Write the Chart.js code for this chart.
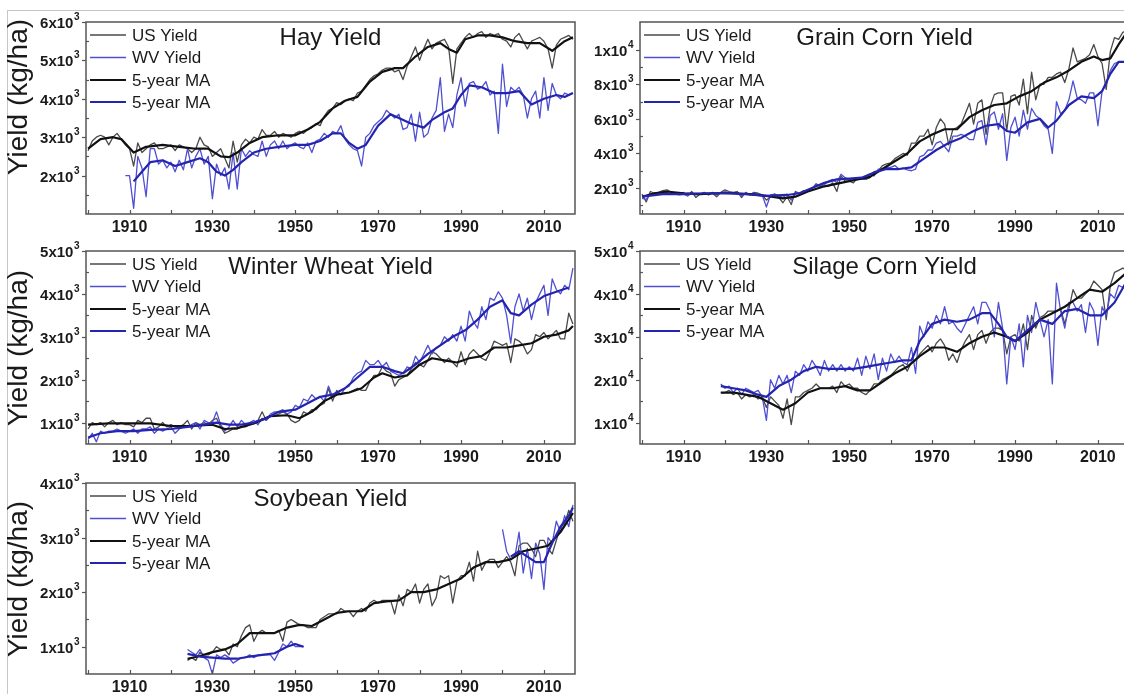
<!DOCTYPE html>
<html>
<head>
<meta charset="utf-8">
<script src="https://cdn.jsdelivr.net/npm/chart.js@4.4.0/dist/chart.umd.min.js"></script>
<style>
  html, body { margin: 0; padding: 0; background: #fff; width: 1124px; height: 694px; overflow: hidden; }
  #frame { position: absolute; left: 7px; top: 10px; width: 1300px; height: 900px;
           border-top: 1.5px solid #c6c6c6; border-left: 1.5px solid #c6c6c6; }
  canvas { position: absolute; }
</style>
</head>
<body>
<div id="frame"></div>
<canvas id="hay" width="578" height="240" style="left:0px;top:0px"></canvas>
<canvas id="corn" width="558" height="240" style="left:576px;top:0px"></canvas>
<canvas id="wheat" width="578" height="240" style="left:0px;top:230px"></canvas>
<canvas id="silage" width="558" height="240" style="left:576px;top:230px"></canvas>
<canvas id="soy" width="578" height="240" style="left:0px;top:460px"></canvas>
<script>
// ---- year axis ----
const yearLabels = [1910, 1930, 1950, 1970, 1990, 2010]
const yearMinor = [1900, 1920, 1940, 1960, 1980, 2000]

// ---- Hay (kg/ha) ----
const hayUsStart = 1900
const hayUs = [
  2650, 2900, 3000, 3050, 3000, 2800, 3000, 3100, 2950, 2800,
  2700, 2250, 2850, 2600, 2700, 2800, 2850, 2700, 2700, 2750,
  2800, 2650, 2800, 2750, 2700, 2600, 2700, 3000, 2800, 2750,
  2500, 2600, 2700, 2450, 2200, 2900, 2350, 2800, 2950, 2850,
  3000, 2950, 3200, 3050, 3050, 3150, 3000, 3100, 3050, 3000,
  3100, 3150, 3100, 3200, 3250, 3350, 3300, 3550, 3700, 3750,
  3900, 3850, 3950, 4000, 3950, 4150, 4200, 4350, 4500, 4600,
  4650, 4750, 4800, 4800, 4700, 4750, 4500, 4850, 5100, 5350,
  5000, 5300, 5550, 5300, 5450, 5500, 5550, 5350, 4400, 5300,
  5450, 5600, 5700, 5600, 5700, 5750, 5600, 5700, 5650, 5700,
  5550, 5500, 5350, 5600, 5700, 5500, 5300, 5500, 5550, 5600,
  5500, 5300, 4800, 5400, 5550, 5600, 5650, 5550
]
const hayWvStart = 1909
const hayWv = [
  2000,
  2000, 1150, 2500, 2200, 1450, 2700, 2700, 2300, 2400, 2200,
  2350, 2100, 2400, 2150, 2700, 2200, 2500, 2700, 2300, 2500,
  1400, 2300, 2000, 2200, 1650, 2600, 1650, 2700, 2500, 2650,
  2550, 2500, 2900, 2500, 2800, 2900, 2700, 2900, 2700, 2800,
  2850, 2750, 2700, 2850, 2600, 2900, 2950, 3100, 3000, 3150,
  3100, 3300, 2950, 2800, 2700, 2650, 2250, 3000, 3100, 3300,
  3400, 3500, 3700, 3600, 3500, 3600, 3200, 3250, 3600, 2900,
  3650, 3000, 3100, 3500, 3700, 4550, 3150, 3600, 3250, 4100,
  4550, 3800, 4400, 4450, 4250, 4300, 4450, 4100, 4200, 3100,
  4900, 3800, 4300, 4200, 4300, 4100, 3500, 4000, 4200, 3500,
  4550, 3700, 4400, 4100, 4000, 4150, 4100, 4150
]
const hayUsMaYears = [1900, 1903, 1906, 1908, 1911, 1914, 1918, 1922, 1926, 1929, 1932, 1934, 1936, 1939, 1942, 1946, 1950, 1953, 1956, 1959, 1962, 1965, 1968, 1971, 1974, 1976, 1979, 1982, 1985, 1987, 1989, 1991, 1994, 1997, 2000, 2003, 2006, 2009, 2012, 2015, 2017]
const hayUsMa = [2700, 2950, 3000, 2950, 2600, 2750, 2800, 2750, 2700, 2700, 2500, 2480, 2600, 2850, 3000, 3050, 3050, 3200, 3400, 3750, 3950, 4050, 4450, 4700, 4800, 4800, 5100, 5350, 5450, 5300, 5200, 5550, 5650, 5650, 5600, 5500, 5450, 5450, 5250, 5500, 5600]
const hayWvMaYears = [1911, 1913, 1915, 1918, 1921, 1924, 1927, 1929, 1931, 1933, 1935, 1937, 1940, 1943, 1946, 1950, 1953, 1956, 1959, 1961, 1963, 1965, 1967, 1970, 1973, 1975, 1978, 1981, 1983, 1986, 1988, 1990, 1992, 1995, 1998, 2001, 2004, 2007, 2010, 2013, 2015, 2017]
const hayWvMa = [1850, 2100, 2350, 2400, 2250, 2350, 2450, 2350, 2100, 2000, 2150, 2350, 2600, 2700, 2750, 2800, 2800, 2900, 3100, 3100, 2850, 2700, 2800, 3300, 3600, 3500, 3350, 3250, 3450, 3650, 3750, 4100, 4350, 4300, 4150, 4150, 4200, 3850, 4000, 4100, 4050, 4150]
const hayTicks = [2000, 3000, 4000, 5000, 6000]

// ---- Grain corn (kg/ha) ----
const cornUsStart = 1900
const cornUs = [
  1650, 1200, 1800, 1700, 1750, 1850, 1900, 1750, 1700, 1650,
  1750, 1550, 1800, 1450, 1650, 1750, 1600, 1700, 1500, 1750,
  1900, 1800, 1750, 1800, 1450, 1750, 1600, 1750, 1700, 1600,
  1300, 1500, 1650, 1450, 1150, 1500, 1050, 1800, 1700, 1850,
  1850, 1950, 2250, 2100, 2100, 2100, 2300, 1800, 2700, 2400,
  2400, 2300, 2600, 2500, 2500, 2600, 2950, 3000, 3300, 3400,
  3450, 3700, 3850, 4000, 3900, 4600, 4600, 5000, 5000, 5400,
  4500, 5500, 6000, 5700, 4500, 5400, 5500, 5700, 6300, 6900,
  5700, 6900, 7100, 5100, 6700, 7400, 7500, 7500, 5300, 7300,
  7400, 6800, 8300, 6300, 8700, 7100, 8000, 8000, 8400, 8400,
  8600, 8700, 8100, 8900, 10100, 9300, 9400, 9500, 9700, 10300,
  9600, 9200, 7700, 9900, 10700, 10600, 11000, 11100
]
const cornWvStart = 1900
const cornWv = [
  1400, 1350, 1650, 1600, 1700, 1700, 1750, 1650, 1650, 1600,
  1650, 1550, 1700, 1600, 1650, 1700, 1650, 1750, 1600, 1700,
  1800, 1750, 1700, 1750, 1550, 1700, 1650, 1700, 1650, 1600,
  900, 1600, 1650, 1550, 1450, 1650, 1300, 1750, 1700, 1800,
  1900, 1950, 2200, 2100, 2200, 2400, 2500, 2300, 2800, 2600,
  2500, 2450, 2600, 2500, 2500, 2800, 2700, 3100, 3100, 3200,
  3200, 3300, 3100, 3150, 3050, 3000, 3100, 3800, 3900, 4200,
  4200, 4600, 4700, 4400, 4100, 5000, 5000, 5100, 5000, 4800,
  4800, 5800, 5900, 4500, 6200, 6400, 5400, 6300, 3600, 5500,
  6100, 5000, 6500, 5400, 6600, 6200, 6000, 5600, 5400, 4000,
  7000, 6300, 6500, 7100, 8200, 7200, 7100, 6900, 7500, 7500,
  5600, 7600, 8000, 8800, 9200, 9300, 9300, 9200
]
const cornUsMaYears = [1900, 1903, 1906, 1910, 1914, 1918, 1922, 1926, 1930, 1934, 1937, 1940, 1944, 1948, 1952, 1955, 1958, 1961, 1964, 1967, 1970, 1973, 1976, 1979, 1982, 1985, 1988, 1991, 1994, 1997, 2000, 2003, 2006, 2009, 2011, 2013, 2015, 2017]
const cornUsMa = [1500, 1700, 1800, 1700, 1650, 1700, 1700, 1650, 1550, 1400, 1500, 1800, 2100, 2300, 2500, 2650, 3100, 3550, 4000, 4700, 5100, 5400, 5400, 6100, 6500, 6800, 6900, 7300, 7600, 8100, 8400, 8800, 9300, 9600, 9400, 9500, 10300, 11000]
const cornWvMaYears = [1900, 1905, 1910, 1915, 1920, 1925, 1930, 1935, 1938, 1941, 1944, 1947, 1950, 1953, 1956, 1959, 1962, 1965, 1968, 1971, 1974, 1977, 1980, 1983, 1986, 1988, 1990, 1993, 1996, 1998, 2000, 2003, 2006, 2009, 2011, 2013, 2015, 2017]
const cornWvMa = [1500, 1650, 1650, 1700, 1700, 1650, 1550, 1600, 1700, 2000, 2300, 2500, 2550, 2600, 2900, 3100, 3100, 3200, 3700, 4200, 4600, 4900, 5300, 5600, 5700, 5300, 5200, 5800, 6000, 5500, 5900, 6800, 7300, 7200, 7600, 8600, 9300, 9300]
const cornTicks = [2000, 4000, 6000, 8000, 10000]

// ---- Winter wheat (kg/ha) ----
const wheatUsStart = 1900
const wheatUs = [
  850, 1000, 950, 1000, 900, 1000, 1050, 950, 1000, 950,
  950, 900, 1050, 1000, 1100, 1100, 850, 900, 1000, 900,
  950, 900, 900, 950, 1050, 850, 1000, 950, 1000, 950,
  1050, 1100, 900, 750, 800, 850, 850, 900, 900, 950,
  1000, 1050, 1250, 1050, 1150, 1150, 1200, 1250, 1200, 1050,
  1000, 1050, 1250, 1200, 1300, 1300, 1400, 1450, 1800, 1500,
  1750, 1650, 1700, 1700, 1750, 1800, 1750, 1750, 1950, 2100,
  2100, 2300, 2200, 2150, 1850, 2000, 2050, 2100, 2250, 2400,
  2350, 2300, 2450, 2650, 2600, 2500, 2400, 2500, 2400, 2300,
  2650, 2350, 2600, 2700, 2600, 2500, 2450, 2650, 2900, 2850,
  2800, 2850, 2400, 2950, 2900, 2800, 2600, 2700, 3050, 3000,
  3100, 2950, 3050, 3150, 2950, 2950, 3550, 3300
]
const wheatWvStart = 1900
const wheatWv = [
  600, 750, 550, 800, 750, 800, 800, 850, 800, 750,
  800, 850, 750, 850, 850, 900, 750, 850, 800, 850,
  900, 750, 850, 900, 900, 950, 1000, 850, 1050, 1000,
  1000, 1250, 950, 800, 900, 1050, 900, 1050, 950, 1000,
  1050, 950, 1100, 1050, 1200, 1250, 1250, 1300, 1200, 1250,
  1400, 1350, 1550, 1500, 1650, 1550, 1600, 1500, 1850, 1600,
  1700, 1650, 1800, 1850, 2050, 2150, 2200, 2450, 2350, 2350,
  2450, 2300, 2400, 2200, 2150, 2100, 2150, 2300, 2250, 2550,
  2400, 2600, 2800, 2600, 2750, 2800, 3000, 2900, 3050, 2900,
  3250, 2900, 3600, 3350, 3200, 3700, 3400, 3900, 3850, 4050,
  3900, 3500, 2850, 3700, 4000, 3600, 3900, 3400, 3800, 4000,
  4200, 3500, 4350, 4100, 4000, 4200, 4100, 4600
]
const wheatUsMaYears = [1900, 1905, 1910, 1915, 1920, 1925, 1930, 1933, 1936, 1940, 1944, 1948, 1951, 1954, 1957, 1960, 1963, 1966, 1969, 1971, 1974, 1977, 1980, 1983, 1986, 1989, 1992, 1995, 1998, 2001, 2004, 2007, 2010, 2013, 2016, 2017]
const wheatUsMa = [950, 980, 980, 980, 920, 920, 950, 850, 870, 980, 1150, 1170, 1100, 1250, 1500, 1650, 1700, 1800, 2050, 2150, 2050, 2100, 2350, 2500, 2450, 2400, 2500, 2550, 2750, 2750, 2800, 2850, 3000, 3050, 3150, 3250]
const wheatWvMaYears = [1900, 1903, 1907, 1911, 1915, 1920, 1924, 1928, 1931, 1934, 1937, 1940, 1943, 1946, 1950, 1953, 1956, 1959, 1962, 1965, 1968, 1971, 1974, 1976, 1979, 1982, 1985, 1988, 1991, 1994, 1997, 2000, 2002, 2004, 2007, 2010, 2013, 2016]
const wheatWvMa = [650, 750, 800, 800, 830, 850, 900, 950, 1000, 950, 950, 1000, 1100, 1250, 1300, 1450, 1600, 1650, 1800, 2050, 2300, 2300, 2200, 2150, 2350, 2600, 2800, 3000, 3150, 3400, 3700, 3850, 3550, 3500, 3750, 3950, 4050, 4150]
const wheatTicks = [1000, 2000, 3000, 4000, 5000]

// ---- Silage corn (kg/ha) ----
const silageUsStart = 1919
const silageUs = [
  17000,
  17000, 17500, 16500, 17000, 15500, 16500, 16000, 16500, 15500, 16000,
  13500, 16000, 15000, 14000, 11000, 15500, 9500, 16000, 16000, 17000,
  17500, 18000, 19000, 18000, 18000, 18000, 18500, 17000, 19500, 18500,
  19000, 18000, 18000, 17000, 16500, 17500, 19000, 19000, 20000, 20500,
  21000, 22000, 23000, 23500, 22000, 24000, 24500, 26000, 27000, 28000,
  26500, 28500, 29500, 28000, 24500, 26000, 24000, 27000, 29000, 30500,
  27000, 30500, 31500, 28500, 31000, 32000, 32000, 31500, 26000, 30000,
  30500, 29000, 33000, 27000, 35000, 32000, 34500, 35000, 36000, 36000,
  36000, 36500, 33000, 36500, 41000, 39000, 39000, 40000, 41000, 43000,
  42000, 41000, 34000, 42000, 45000, 45500, 46000, 45500
]
const silageWvStart = 1919
const silageWv = [
  19000,
  18000, 18500, 17000, 18000, 16500, 18000, 17500, 17000, 17500, 16000,
  10500, 20000, 18000, 21000, 19000, 21000, 17000, 22000, 21000, 23500,
  22000, 24500, 23000, 21000, 24500, 22000, 23500, 22000, 23500, 22000,
  23000, 22000, 25000, 21000, 25500, 22500, 26000, 20000, 25000, 22000,
  26000, 24000, 25500, 24000, 23500, 27500, 21500, 32500, 30000, 33500,
  32000, 35000, 33000, 37000, 33000, 33500, 32000, 31000, 33000, 35000,
  37000, 33000, 38000, 38000, 36000, 30000, 38000, 32000, 19000, 30000,
  27000, 33000, 23000, 35000, 31000, 38000, 34000, 30000, 34000, 19000,
  42500, 36000, 32000, 38000, 38000, 36000, 37500, 31000, 38000, 36000,
  28000, 37000, 35000, 40000, 39000, 42000, 41500, 43000
]
const silageUsMaYears = [1919, 1922, 1925, 1928, 1931, 1934, 1937, 1940, 1943, 1946, 1949, 1952, 1955, 1958, 1961, 1964, 1967, 1970, 1973, 1976, 1979, 1982, 1985, 1988, 1990, 1993, 1996, 1999, 2002, 2005, 2008, 2011, 2014, 2017]
const silageUsMa = [17000, 17000, 16500, 16000, 14500, 13000, 14500, 17000, 18000, 18000, 18500, 17500, 17500, 19500, 21500, 23000, 25500, 27500, 27500, 26500, 28500, 30000, 31000, 30000, 29000, 31000, 34000, 35500, 37000, 39000, 41000, 40500, 42500, 45000]
const silageWvMaYears = [1919, 1922, 1925, 1928, 1930, 1933, 1936, 1939, 1942, 1945, 1948, 1951, 1954, 1957, 1960, 1963, 1965, 1967, 1970, 1973, 1976, 1979, 1982, 1984, 1986, 1988, 1990, 1993, 1996, 1999, 2002, 2005, 2008, 2011, 2014, 2017]
const silageWvMa = [18500, 18000, 17500, 16500, 16000, 18500, 20000, 22000, 23000, 22500, 22500, 22500, 23000, 23500, 24000, 24500, 24500, 29000, 33000, 34000, 33500, 34000, 35500, 35500, 33000, 30000, 29000, 31500, 34000, 33000, 36000, 36500, 35000, 35000, 38000, 43000]
const silageTicks = [10000, 20000, 30000, 40000, 50000]

// ---- Soybean (kg/ha) ----
const soyUsStart = 1924
const soyUs = [
  750, 800, 750, 900, 850, 850,
  900, 1000, 950, 950, 850, 1050, 1000, 1200, 1350, 1400,
  1100, 1250, 1300, 1250, 1250, 1250, 1300, 1100, 1450, 1500,
  1450, 1400, 1400, 1350, 1350, 1350, 1500, 1550, 1600, 1600,
  1600, 1700, 1650, 1650, 1550, 1650, 1700, 1650, 1800, 1850,
  1800, 1850, 1850, 1850, 1600, 1950, 1750, 2050, 2000, 2150,
  1800, 2050, 2150, 1750, 1900, 2300, 2250, 2300, 1800, 2200,
  2300, 2300, 2550, 2200, 2750, 2400, 2550, 2600, 2600, 2450,
  2550, 2650, 2550, 2300, 2850, 2900, 2900, 2800, 2650, 2950,
  2950, 2800, 2700, 2950, 3200, 3250, 3500, 3300
]
const soyWvEarlyStart = 1924
const soyWvEarly = [
  950, 900, 850, 950, 800, 750,
  500, 850, 800, 850, 800, 700, 750, 800, 800, 850,
  800, 850, 850, 850, 850, 750, 900, 1050, 1000, 1100,
  1000, 1000, 1000
]
const soyWvLateStart = 2000
const soyWvLate = [
  3150, 2750, 2600, 2650, 3100, 2350, 2800, 2250, 2900, 2700,
  2050, 3000, 2900, 3300, 3100, 3400, 3200, 3600
]
const soyUsMaYears = [1924, 1927, 1930, 1933, 1936, 1939, 1942, 1945, 1948, 1951, 1954, 1957, 1960, 1963, 1966, 1969, 1972, 1975, 1978, 1981, 1984, 1987, 1990, 1993, 1996, 1999, 2002, 2005, 2008, 2011, 2014, 2017]
const soyUsMa = [780, 830, 900, 950, 1050, 1250, 1250, 1250, 1350, 1400, 1380, 1500, 1620, 1650, 1650, 1800, 1830, 1850, 2000, 2000, 2050, 2150, 2250, 2450, 2550, 2550, 2600, 2750, 2800, 2850, 3100, 3450]
const soyWvMaEarlyYears = [1924, 1927, 1930, 1933, 1936, 1939, 1942, 1945, 1948, 1950, 1952]
const soyWvMaEarly = [870, 820, 800, 780, 780, 820, 850, 880, 1000, 1050, 1000]
const soyWvMaLateYears = [2002, 2004, 2006, 2008, 2010, 2012, 2014, 2016, 2017]
const soyWvMaLate = [2650, 2750, 2650, 2550, 2550, 2900, 3200, 3400, 3550]
const soyTicks = [1000, 2000, 3000, 4000]

// ---- styling ----
const C = {
  us: '#4a4a4a',
  wv: '#4f4fd2',
  usMa: '#111111',
  wvMa: '#2424ae',
  text: '#1a1a1a',
  axis: '#555555'
}
const FONT = '"Liberation Sans", Arial, sans-serif'

function annual(start, vals) {
  return vals.map((v, i) => ({ x: start + i, y: v }))
}
function paired(years, vals) {
  return years.map((yr, i) => ({ x: yr, y: vals[i] }))
}

const decor = {
  id: 'decor',
  afterDraw(chart, args, o) {
    const { ctx, chartArea: a } = chart
    const x = chart.scales.x, y = chart.scales.y
    ctx.save()

    // plot frame
    ctx.strokeStyle = C.axis
    ctx.lineWidth = 1.5
    ctx.strokeRect(a.left, a.top, a.right - a.left, a.bottom - a.top)

    // x ticks (inward) and labels
    ctx.lineWidth = 1.2
    yearLabels.concat(yearMinor).forEach(v => {
      const px = Math.round(x.getPixelForValue(v)) + 0.5
      if (px < a.left + 1) return
      ctx.beginPath()
      ctx.moveTo(px, a.bottom)
      ctx.lineTo(px, a.bottom - 4)
      ctx.stroke()
    })
    ctx.fillStyle = C.text
    ctx.font = 'bold 16px ' + FONT
    ctx.textAlign = 'center'
    ctx.textBaseline = 'top'
    yearLabels.forEach(v => ctx.fillText(String(v), x.getPixelForValue(v), a.bottom + 6))

    // y ticks and labels with superscript exponent
    const ticks = o.ticks
    const step = ticks[1] - ticks[0]
    ticks.forEach(v => {
      const py = Math.round(y.getPixelForValue(v)) + 0.5
      ctx.beginPath()
      ctx.moveTo(a.left - 4, py)
      ctx.lineTo(a.left, py)
      ctx.stroke()
      const exp = Math.floor(Math.log10(v) + 1e-9)
      const base = (v / Math.pow(10, exp)) + 'x10'
      ctx.font = 'bold 15px ' + FONT
      const w1 = ctx.measureText(base).width
      ctx.font = 'bold 10px ' + FONT
      const w2 = ctx.measureText(String(exp)).width
      const x0 = a.left - 7 - w1 - w2
      ctx.textAlign = 'left'
      ctx.textBaseline = 'middle'
      ctx.font = 'bold 15px ' + FONT
      ctx.fillText(base, x0, py + 1)
      ctx.font = 'bold 10px ' + FONT
      ctx.fillText(String(exp), x0 + w1 + 0.5, py - 5)
      // minor tick half a step below (inward)
      const mv = v - step / 2
      if (mv > y.min) {
        const my = Math.round(y.getPixelForValue(mv)) + 0.5
        ctx.beginPath()
        ctx.moveTo(a.left, my)
        ctx.lineTo(a.left + 3, my)
        ctx.stroke()
      }
    })

    // y axis title
    if (o.yTitle) {
      ctx.save()
      ctx.translate(19, o.yTitleY)
      ctx.rotate(-Math.PI / 2)
      ctx.font = '28px ' + FONT
      ctx.textAlign = 'center'
      ctx.textBaseline = 'middle'
      ctx.fillStyle = C.text
      ctx.fillText('Yield (kg/ha)', 0, 0)
      ctx.restore()
    }

    // legend
    const rows = [13, 35.5, 58, 80]
    chart.data.datasets.forEach((ds, i) => {
      const ly = a.top + rows[i]
      ctx.strokeStyle = ds.borderColor
      ctx.lineWidth = ds.borderWidth
      ctx.beginPath()
      ctx.moveTo(a.left + 4, ly)
      ctx.lineTo(a.left + 40, ly)
      ctx.stroke()
      ctx.fillStyle = C.text
      ctx.font = '17px ' + FONT
      ctx.textAlign = 'left'
      ctx.textBaseline = 'middle'
      ctx.fillText(ds.label, a.left + 46, ly + 1)
    })

    // panel title
    ctx.font = '24px ' + FONT
    ctx.textAlign = 'center'
    ctx.textBaseline = 'middle'
    ctx.fillStyle = C.text
    ctx.fillText(o.title, (a.left + a.right) / 2, a.top + 16)

    ctx.restore()
  }
}

function makePanel(id, cfg) {
  const datasets = [
    { label: 'US Yield', data: cfg.us, borderColor: C.us, borderWidth: 1.3, order: 4 },
    { label: 'WV Yield', data: cfg.wv, borderColor: C.wv, borderWidth: 1.3, order: 3 },
    { label: '5-year MA', data: cfg.usMa, borderColor: C.usMa, borderWidth: 2.2, order: 2 },
    { label: '5-year MA', data: cfg.wvMa, borderColor: C.wvMa, borderWidth: 2.2, order: 1 }
  ]
  new Chart(document.getElementById(id), {
    type: 'line',
    data: { datasets },
    options: {
      responsive: false,
      animation: false,
      devicePixelRatio: 1,
      elements: {
        point: { radius: 0 },
        line: { tension: 0, borderJoinStyle: 'round', fill: false }
      },
      layout: { padding: cfg.pad },
      scales: {
        x: { type: 'linear', display: false, min: 1899.5, max: 2017.5 },
        y: { type: 'linear', display: false, min: cfg.yMin, max: cfg.yMax }
      },
      plugins: {
        legend: { display: false },
        tooltip: { enabled: false },
        decor: { title: cfg.title, ticks: cfg.ticks, yTitle: cfg.yTitle, yTitleY: cfg.yTitleY }
      }
    },
    plugins: [decor]
  })
}

makePanel('hay', {
  title: 'Hay Yield', yMin: 1000, yMax: 6000, ticks: hayTicks,
  pad: { left: 86, top: 22, right: 3, bottom: 26 }, yTitle: true, yTitleY: 97,
  us: annual(hayUsStart, hayUs), wv: annual(hayWvStart, hayWv),
  usMa: paired(hayUsMaYears, hayUsMa), wvMa: paired(hayWvMaYears, hayWvMa)
})
makePanel('corn', {
  title: 'Grain Corn Yield', yMin: 500, yMax: 11600, ticks: cornTicks,
  pad: { left: 64, top: 22, right: 5, bottom: 26 }, yTitle: false,
  us: annual(cornUsStart, cornUs), wv: annual(cornWvStart, cornWv),
  usMa: paired(cornUsMaYears, cornUsMa), wvMa: paired(cornWvMaYears, cornWvMa)
})
makePanel('wheat', {
  title: 'Winter Wheat Yield', yMin: 500, yMax: 5000, ticks: wheatTicks,
  pad: { left: 86, top: 21, right: 3, bottom: 26 }, yTitle: true, yTitleY: 118,
  us: annual(wheatUsStart, wheatUs), wv: annual(wheatWvStart, wheatWv),
  usMa: paired(wheatUsMaYears, wheatUsMa), wvMa: paired(wheatWvMaYears, wheatWvMa)
})
makePanel('silage', {
  title: 'Silage Corn Yield', yMin: 5000, yMax: 50000, ticks: silageTicks,
  pad: { left: 64, top: 21, right: 5, bottom: 26 }, yTitle: false,
  us: annual(silageUsStart, silageUs), wv: annual(silageWvStart, silageWv),
  usMa: paired(silageUsMaYears, silageUsMa), wvMa: paired(silageWvMaYears, silageWvMa)
})
makePanel('soy', {
  title: 'Soybean Yield', yMin: 500, yMax: 4000, ticks: soyTicks,
  pad: { left: 86, top: 23, right: 3, bottom: 26 }, yTitle: true, yTitleY: 119,
  us: annual(soyUsStart, soyUs),
  wv: annual(soyWvEarlyStart, soyWvEarly).concat([{ x: 1976, y: null }], annual(soyWvLateStart, soyWvLate)),
  usMa: paired(soyUsMaYears, soyUsMa),
  wvMa: paired(soyWvMaEarlyYears, soyWvMaEarly).concat([{ x: 1976, y: null }], paired(soyWvMaLateYears, soyWvMaLate))
})
</script>
</body>
</html>
